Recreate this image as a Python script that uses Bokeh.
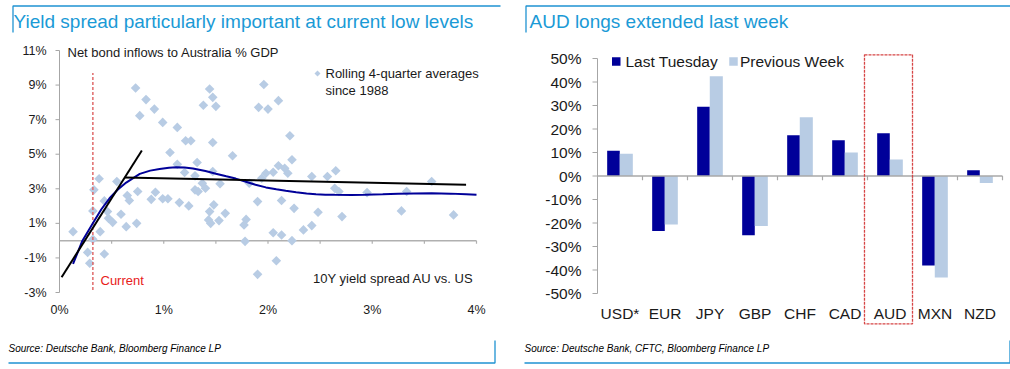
import math
from bokeh.plotting import figure
from bokeh.models import Range1d
from bokeh.layouts import row
from bokeh.embed import file_html
from bokeh.resources import INLINE
from bokeh.core.properties import value

FONT = "Liberation Sans"
TITLE_BLUE = "#1a9ad6"
FRAME_BLUE = "#1f93d2"
NAVY = "#000099"
LIGHT = "#b8cce4"
AXIS_GREY = "#a6a6a6"
TXT = "#1a1a1a"

# ---------------- Left chart data ----------------
left_title = "Yield spread particularly important at current low levels"
left_source = "Source: Deutsche Bank, Bloomberg Finance LP"
scatter_x = [0.73, 0.83, 0.91, 0.77, 0.99, 1.13, 1.21, 1.26, 1.06, 1.13, 1.20, 1.30, 0.38, 0.55, 0.33,
             0.75, 0.65, 0.67, 0.92, 0.88, 0.99, 1.04, 1.15, 1.24, 1.30, 0.43, 0.32, 0.46, 0.47, 0.51,
             0.59, 0.64, 0.74, 0.39, 0.13, 0.32, 0.27, 0.43, 0.29,
             1.96, 1.44, 1.47, 1.38, 1.50, 1.91, 2.00, 2.10, 2.21, 1.47, 1.66, 2.23, 1.32, 1.47, 1.37,
             1.40, 1.33, 1.54, 1.82, 1.94, 1.98, 2.05, 2.10, 2.16, 2.19, 2.42, 2.57, 2.64, 1.90, 2.13,
             2.25, 2.48, 1.48, 1.44, 1.59, 1.45, 1.53, 1.43, 1.79, 1.77, 1.78, 2.05, 2.13, 2.23, 2.34,
             2.42, 2.08, 1.90,
             2.65, 2.68, 2.95, 3.33, 3.57, 2.71, 3.28, 3.78]
scatter_y = [8.83, 8.16, 7.61, 7.23, 6.84, 6.55, 5.78, 5.78, 5.10, 4.42, 3.94, 3.75, 3.58, 3.42, 2.94,
             2.84, 2.61, 2.32, 2.80, 2.39, 2.42, 2.42, 2.20, 2.01, 2.94, 2.30, 1.72, 1.68, 1.29, 1.06,
             1.53, 0.81, 1.00, 0.52, 0.52, 0.08, -0.68, -0.77, -1.31,
             9.03, 8.77, 8.29, 7.83, 7.77, 7.71, 7.61, 8.10, 6.07, 5.68, 4.91, 4.68, 4.52, 4.00, 3.32,
             3.03, 2.84, 3.29, 3.32, 3.61, 3.90, 3.96, 4.33, 4.19, 3.90, 3.71, 3.71, 3.03, 2.26, 2.32,
             1.87, 1.64, 2.07, 1.68, 1.58, 1.00, 1.16, 1.20, 1.23, 0.91, -0.04, 0.46, 0.33, 0.00, 0.62,
             0.87, -1.16, -1.95,
             4.04, 2.84, 2.78, 2.84, 3.42, 1.39, 1.72, 1.49]

curve_x = [0.13, 0.22, 0.32, 0.40, 0.48, 0.56, 0.64, 0.77, 0.87, 0.96, 1.05, 1.12, 1.20, 1.28, 1.40,
           1.50, 1.60, 1.69, 1.78, 1.88, 1.98, 2.08, 2.17, 2.27, 2.37, 2.46, 2.55, 2.64, 2.80, 2.93,
           3.10, 3.25, 3.40, 3.57, 3.75, 3.90, 4.00]
curve_y = [-1.35, 0.00, 1.00, 1.80, 2.45, 2.96, 3.36, 3.86, 4.05, 4.15, 4.22, 4.25, 4.23, 4.17, 4.03,
           3.87, 3.72, 3.59, 3.42, 3.23, 3.08, 2.97, 2.88, 2.80, 2.73, 2.68, 2.66, 2.65, 2.64, 2.65,
           2.68, 2.71, 2.73, 2.74, 2.72, 2.68, 2.65]

fit_steep_x = [0.02, 0.79]
fit_steep_y = [-2.12, 5.21]
fit_flat_x = [0.625, 3.90]
fit_flat_y = [3.65, 3.23]

current_spread = 0.32
current_line_y = [-2.85, 9.7]

y1_ticks = [-3, -1, 1, 3, 5, 7, 9, 11]
y1_labels = ["-3%", "-1%", "1%", "3%", "5%", "7%", "9%", "11%"]
x1_ticks = [0, 1, 2, 3, 4]
x1_labels = ["0%", "1%", "2%", "3%", "4%"]
x1_minor = [0.5, 1.0, 1.5, 2.0, 2.5, 3.0, 3.5, 4.0]

# ---------------- Right chart data ----------------
right_title = "AUD longs extended last week"
right_source = "Source: Deutsche Bank, CFTC, Bloomberg Finance LP"
currencies = ["USD*", "EUR", "JPY", "GBP", "CHF", "CAD", "AUD", "MXN", "NZD"]
series_names = ["Last Tuesday", "Previous Week"]
last_tuesday = [10.7, -23.4, 29.5, -25.2, 17.3, 15.2, 18.2, -38.1, 2.4]
previous_week = [9.5, -20.6, 42.4, -21.3, 25.0, 10.0, 7.0, -43.2, -3.0]
y2_ticks = [-50, -40, -30, -20, -10, 0, 10, 20, 30, 40, 50]
y2_labels = ["-50%", "-40%", "-30%", "-20%", "-10%", "0%", "10%", "20%", "30%", "40%", "50%"]
highlight = "AUD"

H = 366
W_LEFT = 512
W_RIGHT = 498


def mapper(p0, v0, p1, v1):
    k = (v1 - v0) / (p1 - p0)
    return lambda px: v0 + (px - p0) * k


def make_fig(width, mx, my):
    p = figure(width=width, height=H, x_range=Range1d(mx(0), mx(width)), y_range=Range1d(my(H), my(0)),
               output_backend="svg", toolbar_location=None, min_border=0,
               x_axis_location=None, y_axis_location=None)
    p.title.visible = False
    p.xgrid.visible = False
    p.ygrid.visible = False
    p.outline_line_color = None
    p.background_fill_color = "white"
    p.border_fill_color = "white"
    return p


def txt(p, xs, ys, texts, size, color=TXT, align="left", style="normal"):
    p.text(x=xs, y=ys, text=texts, text_font=value(FONT), text_font_size=size,
           text_color=color, text_align=align, text_baseline="middle", text_font_style=style)


# ================= LEFT FIGURE (pixel anchors: 0% at x=59, 4% at x=476; 11% at y=50, -3% at y=292) ==========
LX = mapper(59, 0, 476, 4)
LY = mapper(50, 11, 292, -3)
p1 = make_fig(W_LEFT, LX, LY)

# panel frame + title + source
p1.line([LX(12.5), LX(12.5), LX(500)], [LY(32), LY(5.5), LY(5.5)], line_color=FRAME_BLUE, line_width=1.3)
p1.line([LX(8), LX(494.5), LX(494.5)], [LY(362.5), LY(362.5), LY(340)], line_color=FRAME_BLUE, line_width=1.3)
txt(p1, [LX(13)], [LY(20.5)], [left_title], "19px", color=TITLE_BLUE)
txt(p1, [LX(8)], [LY(348)], [left_source], "10px", color="black", style="italic")

# y axis
p1.segment(x0=[0], y0=[y1_ticks[0]], x1=[0], y1=[y1_ticks[-1]], line_color=AXIS_GREY, line_width=1)
p1.segment(x0=[0] * len(y1_ticks), y0=y1_ticks, x1=[LX(55)] * len(y1_ticks), y1=y1_ticks,
           line_color=AXIS_GREY, line_width=1)
txt(p1, [LX(46)] * len(y1_ticks), y1_ticks, y1_labels, "12.5px", align="right")
# x axis labels at bottom, axis line at zero
txt(p1, x1_ticks, [LY(309)] * len(x1_ticks), x1_labels, "12.5px", align="center")
p1.segment(x0=[x1_ticks[0]], y0=[0], x1=[x1_ticks[-1]], y1=[0], line_color="#b0b0b0", line_width=1.5)
p1.segment(x0=x1_minor, y0=[0] * len(x1_minor), x1=x1_minor, y1=[-0.18] * len(x1_minor),
           line_color="#b0b0b0", line_width=1.2)

# data
p1.scatter(scatter_x, scatter_y, marker="square", angle=math.pi / 4, size=6.8,
           fill_color=LIGHT, line_color=None)
p1.segment(x0=[current_spread], y0=[current_line_y[0]], x1=[current_spread], y1=[current_line_y[1]],
           line_color="#e06a6a", line_dash="3 2", line_width=1.5)
p1.line(curve_x, curve_y, line_color=NAVY, line_width=2)
p1.line(fit_steep_x, fit_steep_y, line_color="black", line_width=2)
p1.line(fit_flat_x, fit_flat_y, line_color="black", line_width=2)

# in-plot annotations
txt(p1, [LX(67)], [LY(52)], ["Net bond inflows to Australia % GDP"], "13px")
p1.scatter([LX(317)], [LY(73)], marker="square", angle=math.pi / 4, size=4.2, fill_color=LIGHT, line_color=None)
txt(p1, [LX(325)], [LY(73)], ["Rolling 4-quarter averages"], "13px")
txt(p1, [LX(325)], [LY(90)], ["since 1988"], "13px")
txt(p1, [LX(473)], [LY(278)], ["10Y yield spread AU vs. US"], "13px", align="right")
txt(p1, [LX(100)], [LY(280)], ["Current"], "13px", color="#e8201a")

# ================= RIGHT FIGURE (pixel anchors relative to x=512: 0 at 85, 9 at 490; 50% at y=58, -50% at 293) ===
RX = mapper(85, 0, 490, 9)
RY = mapper(58, 50, 293, -50)
p2 = make_fig(W_RIGHT, RX, RY)

p2.line([RX(13.5), RX(13.5), RX(498)], [RY(32), RY(5.5), RY(5.5)], line_color=FRAME_BLUE, line_width=1.3)
p2.line([RX(12), RX(497.5), RX(497.5)], [RY(362.5), RY(362.5), RY(340)], line_color=FRAME_BLUE, line_width=1.3)
txt(p2, [RX(17)], [RY(20.5)], [right_title], "19px", color=TITLE_BLUE)
txt(p2, [RX(12)], [RY(348)], [right_source], "10px", color="black", style="italic")

# y axis
p2.segment(x0=[0], y0=[y2_ticks[0]], x1=[0], y1=[y2_ticks[-1]], line_color=AXIS_GREY, line_width=1)
p2.segment(x0=[0] * len(y2_ticks), y0=y2_ticks, x1=[RX(80)] * len(y2_ticks), y1=y2_ticks,
           line_color=AXIS_GREY, line_width=1)
txt(p2, [RX(69)] * len(y2_ticks), y2_ticks, y2_labels, "15.5px", align="right")

# bars
idx = list(range(len(currencies)))
x_dark = [i + 0.355 for i in idx]
x_light = [i + 0.64 for i in idx]
p2.vbar(x=x_dark, top=last_tuesday, bottom=0, width=0.28, fill_color=NAVY, line_color=None)
p2.vbar(x=x_light, top=previous_week, bottom=0, width=0.29, fill_color=LIGHT, line_color=None)

# zero line with category ticks
cat_edges = [i + 1 for i in idx]
p2.segment(x0=[0], y0=[0], x1=[len(currencies)], y1=[0], line_color="#a8a8a8", line_width=1.5)
p2.segment(x0=cat_edges, y0=[0] * len(cat_edges), x1=cat_edges, y1=[-1.8] * len(cat_edges),
           line_color="#a8a8a8", line_width=1.2)

# category labels
txt(p2, [i + 0.5 for i in idx], [RY(313)] * len(idx), currencies, "15.5px", align="center")

# highlight box around AUD
hi = currencies.index(highlight)
p2.quad(left=[hi - 0.067], right=[hi + 1.0], top=[RY(54.3)], bottom=[RY(323.3)],
        fill_color=None, line_color="#d64545", line_dash="3 1", line_width=1.3)

# legend
p2.rect(x=[RX(103.75), RX(221)], y=[RY(61)] * 2, width=8.5, height=8.5,
        width_units="screen", height_units="screen", fill_color=[NAVY, LIGHT], line_color=None)
txt(p2, [RX(113), RX(227.5)], [RY(61)] * 2, series_names, "15.5px")

layout = row(p1, p2)
open("out.html", "w").write(file_html(layout, INLINE))
